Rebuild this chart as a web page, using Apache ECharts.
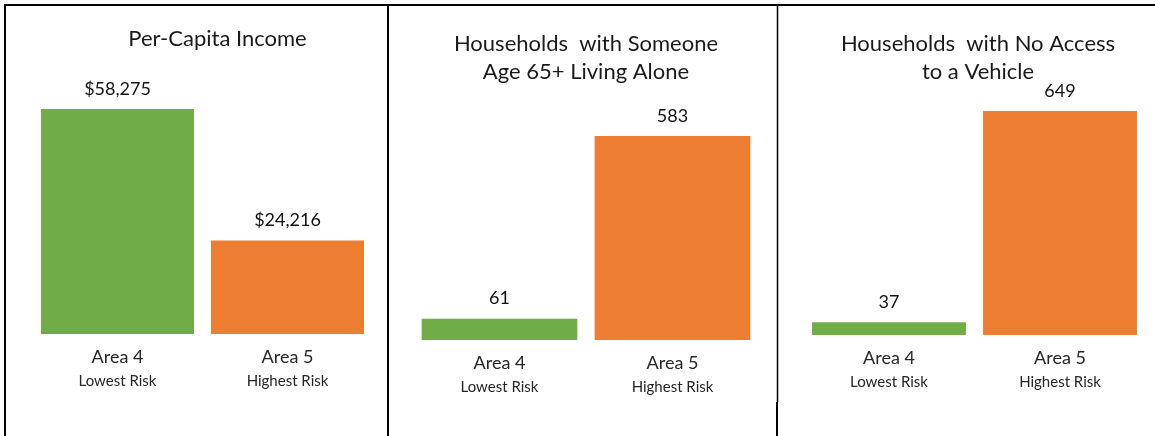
<!DOCTYPE html>
<html>
<head>
<meta charset="utf-8">
<title>Risk Area Comparison</title>
<script src="https://cdn.jsdelivr.net/npm/echarts@6/dist/echarts.min.js"></script>
<style>
  html, body { margin: 0; padding: 0; background: #fff; }
  #chart { width: 1155px; height: 436px; }
</style>
</head>
<body>
<div id="chart"></div>
<script>
// Area names and their risk descriptions
const categories = ['Area 4', 'Area 5'];
const riskLabels = ['Lowest Risk', 'Highest Risk'];

// Panel values
const incomeValues = [58275, 24216];
const livingAloneValues = [61, 583];
const noVehicleValues = [37, 649];

const panelTitles = [
  'Per-Capita Income',
  'Households  with Someone\nAge 65+ Living Alone',
  'Households  with No Access\nto a Vehicle'
];

const barColors = ['#70AD47', '#ED7D31'];

const FONT = 'Lato, "Open Sans", sans-serif';

// Layout of each panel: grid box, y max, title centre
const panels = [
  { values: incomeValues, money: true, left: 32.5, width: 340, top: 102.3, bottom: 102, max: 60000, titleX: 217.5, titleTop: 25 },
  { values: livingAloneValues, money: false, left: 413, width: 346, top: 130.1, bottom: 96, max: 600, titleX: 586, titleTop: 30 },
  { values: noVehicleValues, money: false, left: 803.5, width: 342, top: 93.4, bottom: 101, max: 700, titleX: 978, titleTop: 30 }
];

const fmt = (v, money) => (money ? '$' : '') + v.toLocaleString('en-US');

const option = {
  animation: false,
  backgroundColor: '#fff',
  textStyle: { fontFamily: FONT },
  title: panels.map((p, i) => ({
    text: panelTitles[i],
    left: p.titleX,
    top: p.titleTop,
    padding: 0,
    textAlign: 'center',
    textStyle: { fontFamily: FONT, fontSize: 22, fontWeight: 'normal', color: '#1a1a1a', lineHeight: 28 }
  })),
  grid: panels.map(p => ({ left: p.left, width: p.width, top: p.top, bottom: p.bottom, containLabel: false })),
  xAxis: panels.map((p, i) => ({
    type: 'category',
    gridIndex: i,
    data: categories,
    axisLine: { show: false },
    axisTick: { show: false },
    splitLine: { show: false },
    axisLabel: {
      margin: 12,
      formatter: (val, idx) => '{a|' + val + '}\n{b|' + riskLabels[idx] + '}',
      rich: {
        a: { fontFamily: FONT, fontSize: 18, lineHeight: 23, color: '#262626' },
        b: { fontFamily: FONT, fontSize: 15, lineHeight: 24, color: '#262626' }
      }
    }
  })),
  yAxis: panels.map((p, i) => ({
    type: 'value',
    gridIndex: i,
    min: 0,
    max: p.max,
    show: false,
    splitLine: { show: false }
  })),
  series: panels.map((p, i) => ({
    type: 'bar',
    xAxisIndex: i,
    yAxisIndex: i,
    barWidth: '90%',
    data: p.values.map((v, j) => ({ value: v, itemStyle: { color: barColors[j] } })),
    label: {
      show: true,
      position: 'top',
      distance: 11,
      fontFamily: FONT,
      fontSize: 18,
      color: '#111',
      formatter: d => fmt(d.value, p.money)
    }
  })),
  graphic: [
    // frame: top rule, left edge and the two panel dividers
    { type: 'line', shape: { x1: 4, y1: 5, x2: 1155, y2: 5 }, style: { stroke: '#000', lineWidth: 2 } },
    { type: 'line', shape: { x1: 5, y1: 4, x2: 5, y2: 436 }, style: { stroke: '#000', lineWidth: 2 } },
    { type: 'line', shape: { x1: 388, y1: 4, x2: 388, y2: 436 }, style: { stroke: '#000', lineWidth: 2 } },
    { type: 'line', shape: { x1: 777.5, y1: 4, x2: 777.5, y2: 402 }, style: { stroke: '#000', lineWidth: 1.5 } },
    { type: 'line', shape: { x1: 777, y1: 402, x2: 777, y2: 436 }, style: { stroke: '#000', lineWidth: 2 } }
  ]
};

const chart = echarts.init(document.getElementById('chart'), null, { renderer: 'canvas' });
chart.setOption(option);
</script>
</body>
</html>
